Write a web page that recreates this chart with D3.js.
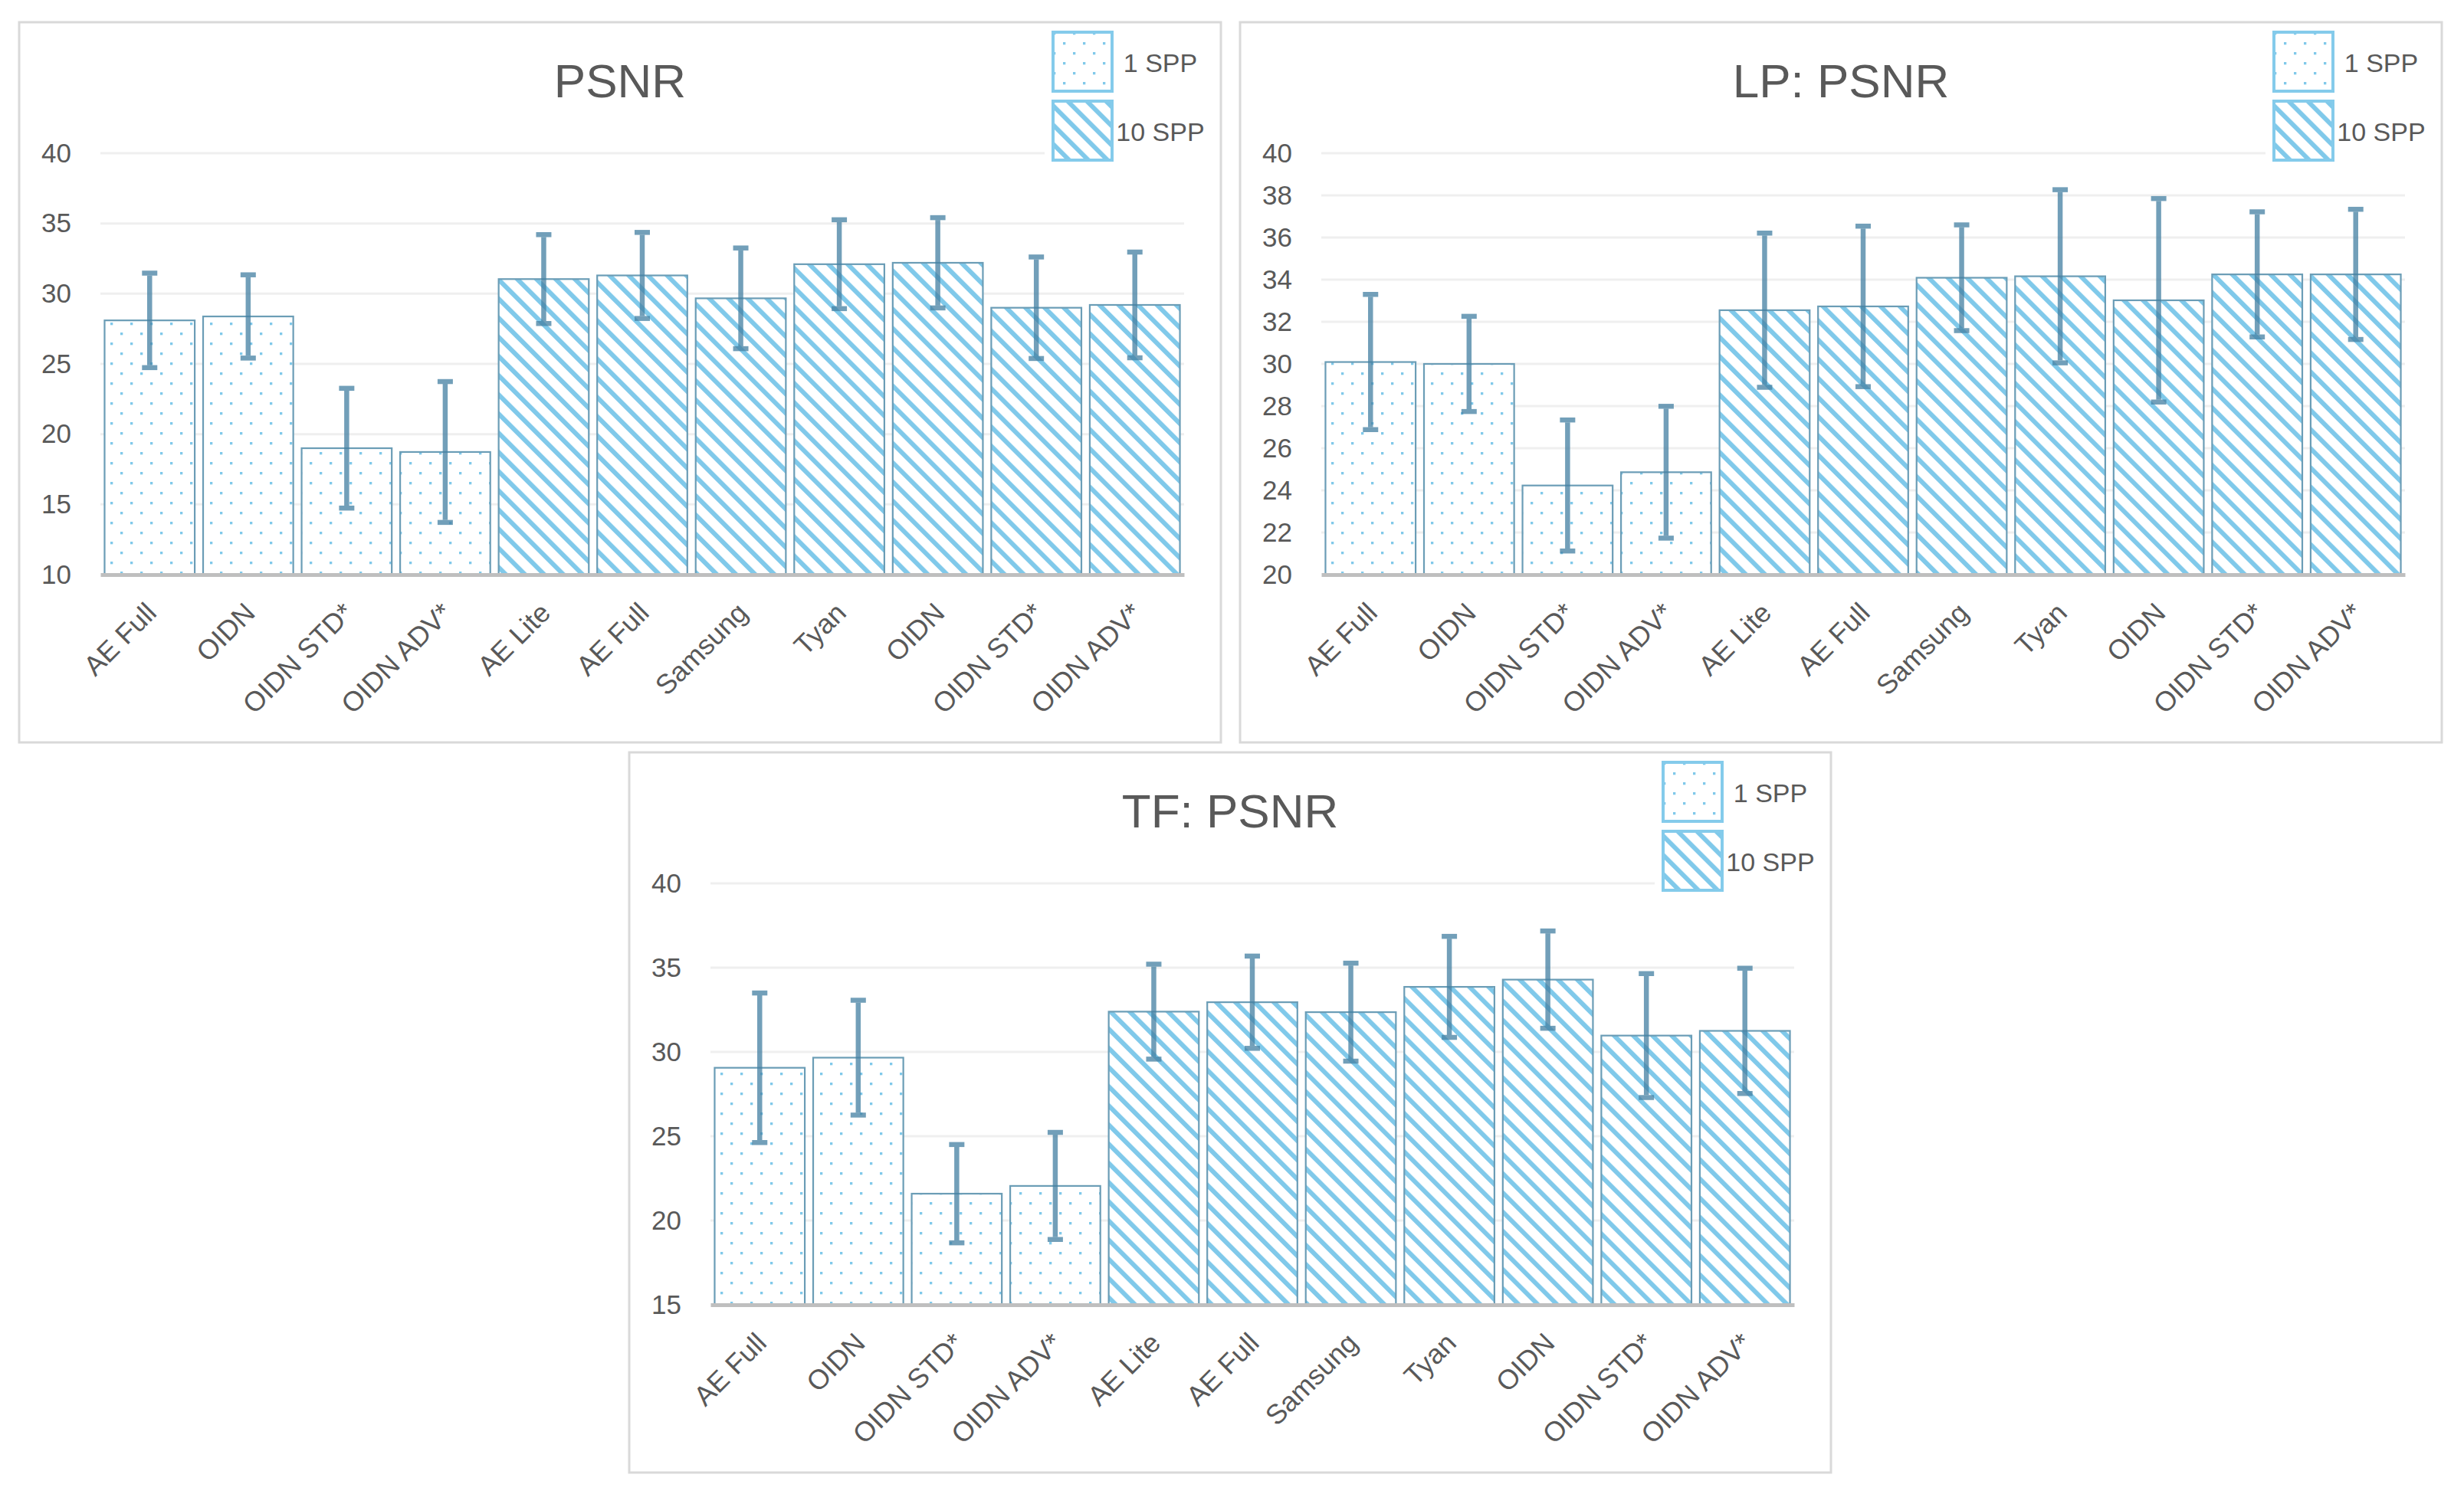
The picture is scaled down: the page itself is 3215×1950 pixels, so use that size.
<!DOCTYPE html>
<html>
<head>
<meta charset="utf-8">
<script src="https://cdn.jsdelivr.net/npm/d3@7"></script>
<style>
    body { margin: 0; background: #ffffff; }
    text { font-family: "Liberation Sans", Arial, sans-serif; fill: #595959; }
</style>
</head>
<body>
<div id="psnr_charts"></div>
<script>
// categories shared by the three charts (first 4 are 1 SPP, the rest 10 SPP)
const categories = ["AE Full", "OIDN", "OIDN STD*", "OIDN ADV*", "AE Lite", "AE Full",
    "Samsung", "Tyan", "OIDN", "OIDN STD*", "OIDN ADV*"];
const sppGroup = ["1 SPP", "1 SPP", "1 SPP", "1 SPP", "10 SPP", "10 SPP",
    "10 SPP", "10 SPP", "10 SPP", "10 SPP", "10 SPP"];
const legendLabels = ["1 SPP", "10 SPP"];

// PSNR
const psnrValues = [28.1, 28.38, 19.0, 18.73, 31.04, 31.3, 29.67, 32.1, 32.2, 29.0, 29.2];
const psnrErrors = [3.2, 2.8, 4.1, 4.85, 3.0, 2.9, 3.42, 3.0, 3.05, 3.45, 3.6];
const psnrTicks = [10, 15, 20, 25, 30, 35, 40];

// LP: PSNR
const lpValues = [30.09, 30.0, 24.23, 24.86, 32.55, 32.73, 34.09, 34.16, 33.02, 34.25, 34.25];
const lpErrors = [3.1, 2.15, 3.0, 3.02, 3.55, 3.7, 2.4, 4.0, 4.72, 2.86, 2.98];
const lpTicks = [20, 22, 24, 26, 28, 30, 32, 34, 36, 38, 40];

// TF: PSNR
const tfValues = [29.06, 29.66, 21.59, 22.05, 32.39, 32.95, 32.36, 33.86, 34.29, 30.97, 31.25];
const tfErrors = [4.3, 3.27, 2.78, 3.04, 2.68, 2.6, 2.77, 2.86, 2.75, 3.54, 3.58];
const tfTicks = [15, 20, 25, 30, 35, 40];

let panelWidth = 1568;
let panelHeight = 940;
let margin = {top: 171, left: 106};
let plotWidth = 1414;
let plotHeight = 550;

let light_blue = "#80c9ea";
let bar_outline = "#6b9db6";
let err_color = "#4480a2";

let svg = d3.select("#psnr_charts")
    .append("svg")
    .attr("width", 3215)
    .attr("height", 1950);

// fill patterns
let defs = svg.append("defs");

let dots = defs.append("pattern")
    .attr("id", "dots")
    .attr("patternUnits", "userSpaceOnUse")
    .attr("width", 26)
    .attr("height", 26);
dots.append("rect").attr("width", 26).attr("height", 26).attr("fill", "#ffffff");
dots.append("rect").attr("x", 0).attr("y", 0).attr("width", 3.3).attr("height", 3.3).attr("fill", light_blue);
dots.append("rect").attr("x", 13).attr("y", 13).attr("width", 3.3).attr("height", 3.3).attr("fill", light_blue);

let hatch = defs.append("pattern")
    .attr("id", "hatch")
    .attr("patternUnits", "userSpaceOnUse")
    .attr("width", 17.7)
    .attr("height", 17.7)
    .attr("patternTransform", "rotate(-45)");
hatch.append("rect").attr("width", 17.7).attr("height", 17.7).attr("fill", "#ffffff");
hatch.append("rect").attr("x", 0).attr("width", 6).attr("height", 17.7).attr("fill", light_blue);

function fillFor(group) {
    return group === "1 SPP" ? "url(#dots)" : "url(#hatch)";
}

function drawPanel(x0, y0, title, values, errors, ticks) {
    let panel = svg.append("g")
        .attr("transform", `translate(${x0},${y0})`);

    panel.append("rect")
        .attr("x", 0)
        .attr("y", 0)
        .attr("width", panelWidth)
        .attr("height", panelHeight)
        .attr("fill", "#ffffff")
        .attr("stroke", "#d9d9d9")
        .attr("stroke-width", 3);

    let plot = panel.append("g")
        .attr("transform", `translate(${margin.left},${margin.top})`);

    // scales
    let xScale = d3.scaleBand()
        .domain(d3.range(categories.length))
        .range([0, plotWidth])
        .paddingInner(0.085)
        .paddingOuter(0.0425);

    let yScale = d3.scaleLinear()
        .domain([d3.min(ticks), d3.max(ticks)])
        .range([plotHeight, 0]);

    // gridlines
    plot.append("g")
        .selectAll("line")
        .data(ticks.slice(1))
        .enter()
        .append("line")
        .attr("x1", 0)
        .attr("x2", plotWidth)
        .attr("y1", d => yScale(d))
        .attr("y2", d => yScale(d))
        .attr("stroke", "#efefef")
        .attr("stroke-width", 3);

    // y axis labels
    let yAxis = d3.axisLeft(yScale)
        .tickValues(ticks)
        .tickSize(0)
        .tickPadding(38);

    plot.append("g")
        .attr("class", "yaxis")
        .call(yAxis)
        .call(g => g.select(".domain").remove())
        .selectAll("text")
        .attr("font-size", 35)
        .attr("fill", "#595959");

    // bars
    plot.selectAll(".bar")
        .data(values)
        .enter()
        .append("rect")
        .attr("class", "bar")
        .attr("x", (d, i) => xScale(i))
        .attr("y", d => yScale(d))
        .attr("width", xScale.bandwidth())
        .attr("height", d => plotHeight - yScale(d))
        .attr("fill", (d, i) => fillFor(sppGroup[i]))
        .attr("stroke", bar_outline)
        .attr("stroke-width", 2.2);

    // x axis line + rotated labels
    let xAxis = d3.axisBottom(xScale)
        .tickSize(0)
        .tickFormat(i => categories[i]);

    let xg = plot.append("g")
        .attr("class", "xaxis")
        .attr("transform", `translate(0, ${plotHeight})`)
        .call(xAxis);
    xg.select(".domain")
        .attr("stroke", "#bfbfbf")
        .attr("stroke-width", 5);
    xg.selectAll("text")
        .attr("font-size", 36)
        .attr("fill", "#595959")
        .attr("text-anchor", "end")
        .attr("dy", 0)
        .attr("y", 0)
        .attr("transform", "translate(11, 52) rotate(-45)");

    // error bars
    let errG = plot.append("g")
        .attr("opacity", 0.75);
    let cx = i => xScale(i) + xScale.bandwidth() / 2;

    errG.selectAll(".err")
        .data(values)
        .enter()
        .append("line")
        .attr("x1", (d, i) => cx(i))
        .attr("x2", (d, i) => cx(i))
        .attr("y1", (d, i) => yScale(d + errors[i]))
        .attr("y2", (d, i) => yScale(d - errors[i]))
        .attr("stroke", err_color)
        .attr("stroke-width", 6.5);

    [1, -1].forEach(function (sign) {
        errG.selectAll(".cap" + sign)
            .data(values)
            .enter()
            .append("line")
            .attr("x1", (d, i) => cx(i) - 10)
            .attr("x2", (d, i) => cx(i) + 10)
            .attr("y1", (d, i) => yScale(d + sign * errors[i]) - sign * 3)
            .attr("y2", (d, i) => yScale(d + sign * errors[i]) - sign * 3)
            .attr("stroke", err_color)
            .attr("stroke-width", 6.5);
    });

    // title
    panel.append("text")
        .attr("text-anchor", "middle")
        .attr("x", panelWidth / 2)
        .attr("y", 98)
        .attr("font-size", 62)
        .text(title);

    // legend
    let legend = panel.append("g")
        .attr("transform", "translate(1349, 13)");
    legend.append("rect")
        .attr("x", -11)
        .attr("y", 0)
        .attr("width", 210)
        .attr("height", 200)
        .attr("fill", "#ffffff");
    legendLabels.forEach(function (label, k) {
        legend.append("rect")
            .attr("x", 0)
            .attr("y", k * 90)
            .attr("width", 77)
            .attr("height", 77)
            .attr("fill", fillFor(label))
            .attr("stroke", "#84cbeb")
            .attr("stroke-width", 4);
        legend.append("text")
            .attr("text-anchor", "middle")
            .attr("x", 140)
            .attr("y", k * 90 + 38.5 + 13)
            .attr("font-size", 34)
            .text(label);
    });
}

drawPanel(25, 29, "PSNR", psnrValues, psnrErrors, psnrTicks);
drawPanel(1618, 29, "LP: PSNR", lpValues, lpErrors, lpTicks);
drawPanel(821, 982, "TF: PSNR", tfValues, tfErrors, tfTicks);
</script>
</body>
</html>
